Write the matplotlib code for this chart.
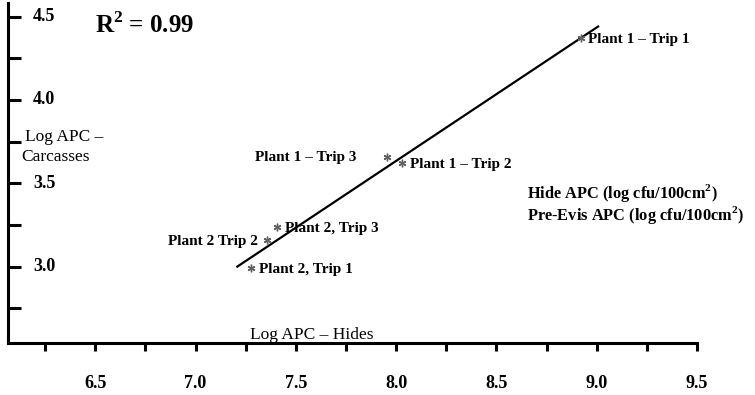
import matplotlib
matplotlib.use("Agg")
import matplotlib.pyplot as plt
from matplotlib.ticker import MultipleLocator

plt.rcParams['font.family'] = ['Liberation Serif', 'DejaVu Serif']
plt.rcParams['mathtext.fontset'] = 'custom'
plt.rcParams['mathtext.rm'] = 'Liberation Serif'
plt.rcParams['mathtext.bf'] = 'Liberation Serif:bold'

# data
hide_apc = [8.92, 7.955, 8.03, 7.407, 7.357, 7.278]
carcass_apc = [4.37, 3.66, 3.62, 3.235, 3.16, 2.99]
point_names = ["Plant 1 \u2013 Trip 1", "Plant 1 \u2013 Trip 3", "Plant 1 \u2013 Trip 2",
               "Plant 2, Trip 3", "Plant 2 Trip 2", "Plant 2, Trip 1"]
fit_x = [7.208, 9.007]
fit_y = [3.0, 4.44]
x_ticks = [6.5, 7.0, 7.5, 8.0, 8.5, 9.0, 9.5]
y_ticks = [3.0, 3.5, 4.0, 4.5]

# label offsets in points (dx); negative = label to the left
label_dx = [5.5, -22, 5.5, 5.5, -7, 5.5]

fig = plt.figure(figsize=(7.55, 3.95), dpi=100)
ax = fig.add_axes([8 / 755, 52 / 395, 689 / 755, 340 / 395])
ax.set_xlim(6.065, 9.5)
ax.set_ylim(2.542, 4.581)

for s in ['top', 'right']:
    ax.spines[s].set_visible(False)
for s in ['left', 'bottom']:
    ax.spines[s].set_linewidth(2.2)

ax.plot(fit_x, fit_y, color='black', lw=1.6)
ax.plot(hide_apc, carcass_apc, ls='none', marker=(6, 2, 0), ms=5.5, mew=1.0, color='#606060')

for x, y, name, dx in zip(hide_apc, carcass_apc, point_names, label_dx):
    ax.annotate(name, (x, y), xytext=(dx, -1), textcoords='offset points',
                ha='left' if dx > 0 else 'right', va='center',
                fontsize=11, fontweight='bold')

ax.set_xticks(x_ticks)
ax.xaxis.set_minor_locator(MultipleLocator(0.25))
ax.set_xticklabels([f"{v:.1f}" for v in x_ticks], fontsize=13, fontweight='bold')
ax.tick_params(axis='x', which='both', direction='out', length=6, width=2.2, pad=17)

ax.set_yticks(y_ticks)
ax.yaxis.set_minor_locator(MultipleLocator(0.25))
ax.tick_params(axis='y', which='both', direction='in', length=9, width=2.2,
               labelleft=False, labelright=False)
for v in y_ticks:
    ax.text(25 / 689, v, f"{v:.1f}", transform=ax.get_yaxis_transform(),
            ha='left', va='center', fontsize=13, fontweight='bold')

ax.text(87 / 689, 4.45, r"R$^{\mathbf{2}}$ = 0.99", transform=ax.get_yaxis_transform(),
        fontsize=18, fontweight='bold', va='center', ha='left')
ax.text(17 / 689, 3.78, "Log APC \u2013", transform=ax.get_yaxis_transform(),
        fontsize=12.5, ha='left', va='center')
ax.text(13 / 689, 3.66, "Carcasses", transform=ax.get_yaxis_transform(),
        fontsize=12.5, ha='left', va='center')
ax.text(7.58, 2.59, "Log APC \u2013 Hides", fontsize=12.5, ha='center', va='center')
ax.text(519 / 689, 3.44, r"Hide APC (log cfu/100cm$^{\mathbf{2}}$)", transform=ax.get_yaxis_transform(),
        fontsize=11.8, fontweight='bold', ha='left', va='center')
ax.text(519 / 689, 3.31, r"Pre-Evis APC (log cfu/100cm$^{\mathbf{2}}$)", transform=ax.get_yaxis_transform(),
        fontsize=11.8, fontweight='bold', ha='left', va='center')

fig.savefig("out.png", dpi=100)
